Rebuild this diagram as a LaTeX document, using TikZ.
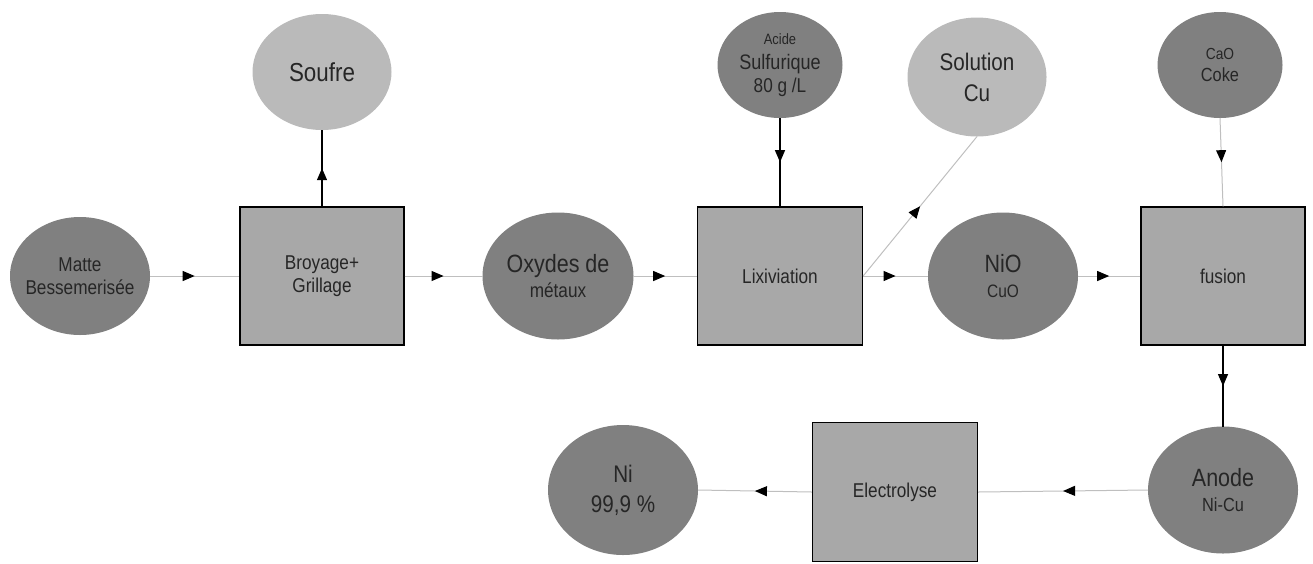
\documentclass[tikz,border=0pt]{standalone}
\usepackage{fontspec}
\setmainfont[FakeStretch=0.86]{Liberation Sans}
\usetikzlibrary{shapes.geometric,arrows.meta,decorations.markings}
\definecolor{boxfill}{gray}{0.66}
\definecolor{darkell}{gray}{0.50}
\definecolor{lightell}{gray}{0.73}
\definecolor{txt}{gray}{0.15}
\definecolor{lightline}{gray}{0.75}
\tikzset{
  proc/.style={draw=black, line width=1.3pt, fill=boxfill, minimum width=164pt, minimum height=138pt, inner sep=0pt, text=txt, align=center, font=\fontsize{20}{23}\selectfont},
  dell/.style={ellipse, fill=darkell, inner sep=-14pt, outer sep=0pt, text=txt, align=center},
  lell/.style={ellipse, fill=lightell, inner sep=-14pt, outer sep=0pt, text=txt, align=center},
  midarrow/.style={postaction={decorate}, decoration={markings, mark=at position 0.5 with {\arrow{Triangle[length=12pt,width=10pt,color=black]}}}},
  blackconn/.style={draw=black, line width=1.2pt, midarrow},
  grayconn/.style={draw=lightline, line width=1pt, midarrow},
}
\begin{document}
\begin{tikzpicture}[x=1pt,y=-1pt]
\useasboundingbox (0,0) rectangle (1313,563);
% top row
\node[dell, minimum width=140pt, minimum height=118pt, font=\fontsize{20}{23}\selectfont] (matte) at (80,276) {Matte\\Bessemerisée};
\node[proc] (broy) at (322,276) {Broyage+\\Grillage};
\node[lell, minimum width=139pt, minimum height=116pt, font=\fontsize{26}{30}\selectfont] (soufre) at (322,72) {Soufre};
\node[dell, minimum width=151pt, minimum height=127pt, font=\fontsize{25}{25}\selectfont] (oxy) at (558,276) {Oxydes de\\{\fontsize{20}{20}\selectfont métaux}};
\node[proc, minimum width=165pt] (lix) at (780,276) {Lixiviation};
\node[dell, minimum width=125pt, minimum height=106pt, font=\fontsize{20}{23}\selectfont] (acide) at (780,65) {{\fontsize{15}{15}\selectfont Acide}\\[2pt]{\fontsize{21}{21}\selectfont Sulfurique}\\80 g /L};
\node[lell, minimum width=139pt, minimum height=119pt, font=\fontsize{24}{31}\selectfont] (sol) at (977,77) {Solution\\Cu};
\node[dell, minimum width=150pt, minimum height=127pt, font=\fontsize{25}{25}\selectfont] (nio) at (1003,276) {NiO\\{\fontsize{18}{18}\selectfont CuO}};
\node[proc] (fus) at (1223,276) {fusion};
\node[dell, minimum width=125pt, minimum height=106pt, font=\fontsize{19}{22}\selectfont] (cao) at (1220,65) {{\fontsize{16}{16}\selectfont CaO}\\Coke};
% bottom row
\node[dell, minimum width=150pt, minimum height=127pt, font=\fontsize{25}{25}\selectfont] (anode) at (1223,490) {Anode\\{\fontsize{19}{19}\selectfont Ni-Cu}};
\node[proc, minimum width=165pt, minimum height=139pt] (elec) at (895,492) {Electrolyse};
\node[dell, minimum width=150pt, minimum height=130pt, font=\fontsize{24}{30}\selectfont] (ni) at (623,490) {Ni\\99,9 \%};
% connectors
\draw[grayconn] (matte.east) -- (broy.west);
\draw[blackconn] (broy.north) -- (soufre.south);
\draw[grayconn] (broy.east) -- (oxy.west);
\draw[grayconn] (oxy.east) -- (lix.west);
\draw[blackconn] (acide.south) -- (lix.north);
\draw[grayconn] (lix.east) -- (sol.south);
\draw[grayconn] (lix.east) -- (nio.west);
\draw[grayconn] (nio.east) -- (fus.west);
\draw[grayconn] (cao.south) -- (fus.north);
\draw[blackconn] (fus.south) -- (anode.north);
\draw[grayconn] (anode.west) -- (elec.east);
\draw[grayconn] (elec.west) -- (ni.east);
\end{tikzpicture}
\end{document}
